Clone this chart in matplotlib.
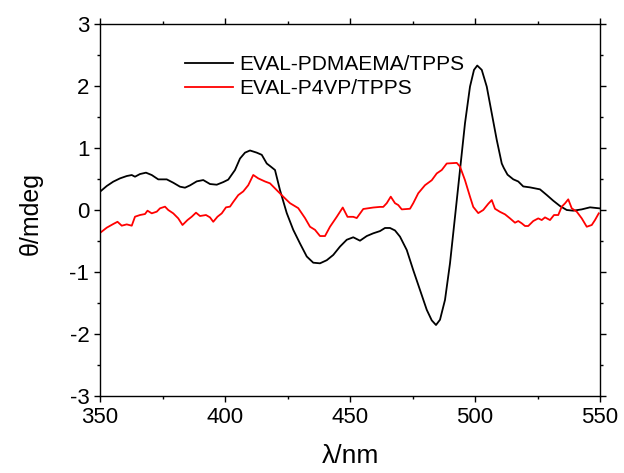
import matplotlib
matplotlib.use("Agg")
import matplotlib.pyplot as plt
from matplotlib.ticker import MultipleLocator

plt.rcParams['font.family'] = ['Liberation Sans', 'DejaVu Sans']
plt.rcParams['axes.unicode_minus'] = False

black_x = [350, 352.7, 355.3, 358, 360.7, 362.7, 364, 366, 368.4, 370.7, 373.3, 376.7, 379.3, 382,
           384, 386, 388.7, 391.3, 394, 396.7, 399.3, 401.3, 404, 406, 408, 410, 412.7, 414.7, 416.7,
           418.3, 420, 422, 424.7, 427.3, 430, 432.7, 435.3, 438, 440.7, 443.3, 446, 448.7, 451.3,
           454, 456.7, 459.3, 462, 464, 466, 468, 470, 472.7, 475.3, 478, 480.7, 482.7, 484.4, 486,
           488, 490, 492, 494, 496, 498, 499.6, 500.9, 502.7, 504.7, 506.7, 508.7, 510.7, 511.5,
           513, 515.3, 517.3, 519.3, 522, 526, 528.7, 531.3, 534, 536.7, 539.3, 542.7, 546, 549.7]
black_y = [0.295, 0.387, 0.457, 0.51, 0.548, 0.564, 0.537, 0.58, 0.602, 0.564, 0.494, 0.494, 0.44, 0.376,
           0.36, 0.397, 0.462, 0.483, 0.419, 0.408, 0.45, 0.49, 0.645, 0.83, 0.925, 0.96, 0.925, 0.89, 0.75,
           0.70, 0.645, 0.32, -0.05, -0.32, -0.54, -0.75, -0.85, -0.86, -0.81, -0.725, -0.59, -0.48, -0.44,
           -0.495, -0.42, -0.376, -0.34, -0.29, -0.29, -0.33, -0.43, -0.645, -0.97, -1.29, -1.61, -1.78, -1.855, -1.77,
           -1.45, -0.86, -0.11, 0.645, 1.40, 1.99, 2.26, 2.33, 2.26, 1.99, 1.56, 1.13, 0.75, 0.68,
           0.57, 0.495, 0.46, 0.38, 0.365, 0.333, 0.242, 0.15, 0.064, 0.0, -0.011, 0.01, 0.043, 0.027]

red_x = [350, 352.7, 355.3, 357, 358.7, 360.7, 362.7, 364, 366, 368, 369, 370.7, 372.7, 374, 376,
         377.3, 379.3, 381.3, 383, 385, 386.7, 388.4, 390, 392.4, 394, 395.3, 397, 398.7, 400.4, 402,
         403.3, 405.3, 407.3, 409.3, 411.3, 413.3, 416, 418, 420.7, 423.3, 426, 429.3, 432, 434, 436,
         438, 440, 442, 444.7, 447.1, 449, 451.3, 452.7, 455.3, 459.3, 462, 463.3, 464.7, 466.3, 468,
         469.3, 470.7, 474, 475.3, 477.3, 480, 482.7, 484.7, 486.7, 488.7, 492.7, 494, 496, 498,
         499.3, 501.3, 503.3, 505.3, 506.7, 508, 510, 512, 514, 516, 517.3, 518.7, 520, 521.3, 523.3,
         525.3, 526.7, 528, 530, 531.6, 533.3, 534.7, 536, 537.3, 538.7, 540.7, 542.7, 544.7, 546.7,
         548, 549.5]
red_y = [-0.37, -0.285, -0.226, -0.19, -0.253, -0.232, -0.253, -0.108, -0.081, -0.065, -0.011, -0.054, -0.027, 0.027, 0.054,
         0.0, -0.054, -0.135, -0.242, -0.162, -0.108, -0.043, -0.097, -0.081, -0.119, -0.19, -0.108, -0.054, 0.043, 0.054,
         0.13, 0.24, 0.30, 0.40, 0.565, 0.51, 0.46, 0.43, 0.32, 0.215, 0.11, 0.03, -0.13, -0.27, -0.32,
         -0.42, -0.42, -0.27, -0.11, 0.04, -0.11, -0.11, -0.13, 0.016, 0.04, 0.05, 0.05, 0.11, 0.215, 0.11,
         0.08, 0.01, 0.02, 0.11, 0.27, 0.40, 0.48, 0.59, 0.645, 0.75, 0.76, 0.70, 0.48, 0.215,
         0.05, -0.05, 0.0, 0.10, 0.16, 0.02, -0.03, -0.07, -0.135, -0.205, -0.178, -0.215, -0.258, -0.258, -0.178,
         -0.135, -0.162, -0.119, -0.162, -0.081, -0.081, 0.054, 0.107, 0.172, 0.027, -0.027, -0.135, -0.27, -0.242,
         -0.162, -0.054]

labels = ['EVAL-PDMAEMA/TPPS', 'EVAL-P4VP/TPPS']

fig = plt.figure(figsize=(6.24, 4.73), dpi=100)
ax = fig.add_axes([100/624, 1-396/473, 500/624, 372/473])

ax.plot(black_x, black_y, color='black', lw=1.3, label=labels[0])
ax.plot(red_x, red_y, color='red', lw=1.3, label=labels[1])

ax.set_xlim(350, 550)
ax.set_ylim(-3, 3)
ax.xaxis.set_major_locator(MultipleLocator(50))
ax.xaxis.set_minor_locator(MultipleLocator(25))
ax.yaxis.set_major_locator(MultipleLocator(1))
ax.yaxis.set_minor_locator(MultipleLocator(0.5))
ax.tick_params(which='both', direction='out', top=True, right=True, labelsize=16, width=1.0)
ax.tick_params(which='major', length=4.2)
ax.tick_params(which='minor', length=2.4)
for s in ax.spines.values():
    s.set_linewidth(1.0)

ax.set_xlabel('λ/nm', fontsize=19)
ax.set_ylabel('θ/mdeg', fontsize=18)
ax.xaxis.set_label_coords(0.502, -0.128)
ax.yaxis.set_label_coords(-0.114, 0.49)

ax.legend(loc='upper left', bbox_to_anchor=(0.17, 0.916), frameon=False, fontsize=15,
          borderaxespad=0, borderpad=0, handlelength=2.3, handletextpad=0.3, labelspacing=0.25)

fig.savefig('out.png', dpi=100)
